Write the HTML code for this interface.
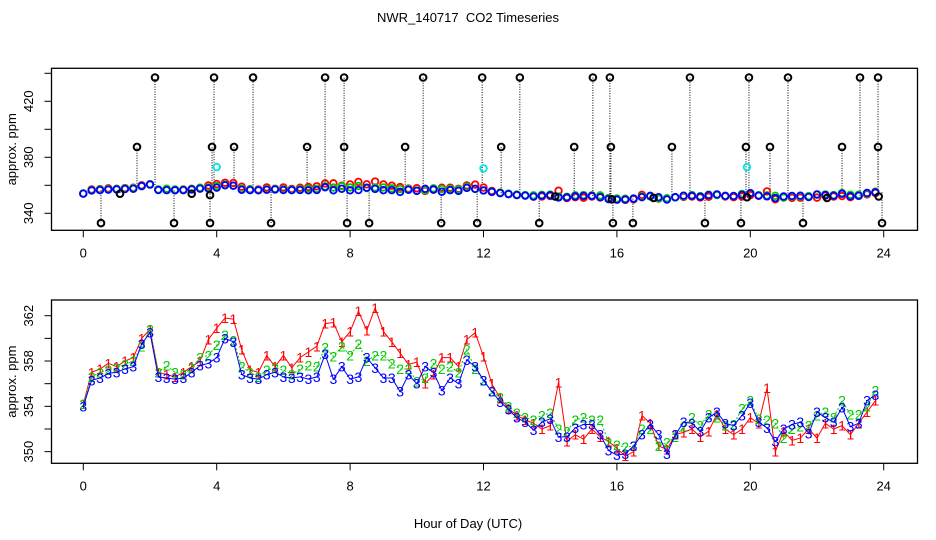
<!DOCTYPE html>
<html><head><meta charset="utf-8">
<style>
html,body{margin:0;padding:0;background:#fff;}
svg{display:block;font-family:"Liberation Sans",Arial,sans-serif;}
</style></head>
<body>
<svg id="chart" width="936" height="540" viewBox="0 0 936 540" xmlns="http://www.w3.org/2000/svg">
<rect x="0" y="0" width="936" height="540" fill="#fff"/>
<text x="468" y="22" font-size="13" text-anchor="middle" style="white-space:pre">NWR_140717  CO2 Timeseries</text>
<g id="topPanel"></g>
<g id="botPanel"></g>
<text x="468" y="528" font-size="13" text-anchor="middle">Hour of Day (UTC)</text>
</svg>
<script>
const hours = [];
for (let i = 0; i < 96; i++) hours.push(i * 0.25);
const series1 = [354.2,357.0,357.3,357.8,357.5,358.0,358.3,360.0,360.8,357.0,356.8,356.6,357.0,357.5,358.0,359.9,360.9,361.8,361.7,359.0,357.2,357.0,358.5,357.5,358.5,357.4,358.3,358.8,359.3,361.3,361.4,359.7,360.6,362.4,360.7,362.7,360.6,359.7,358.7,357.7,357.9,356.0,356.8,358.3,358.3,357.5,359.9,360.5,358.4,356.0,354.7,353.8,353.2,352.8,352.5,352.0,352.3,356.1,350.9,351.5,351.1,352.0,351.3,350.9,350.3,349.6,350.0,353.2,352.5,350.5,350.2,351.5,351.7,352.0,351.3,351.8,353.3,352.0,351.5,352.0,353.0,352.5,355.6,350.0,351.8,351.0,351.2,352.0,351.2,352.5,352.0,352.3,351.5,352.5,353.5,354.5];
const series2 = [354.2,356.6,357.0,357.2,357.4,357.7,358.0,359.3,360.8,357.0,357.6,357.0,356.8,357.4,358.3,358.5,359.4,360.3,359.8,357.5,357.0,356.6,357.2,357.4,357.2,356.8,357.3,357.6,357.5,359.2,358.4,359.3,358.5,359.5,358.0,358.5,358.5,357.8,357.3,357.3,356.2,356.5,357.8,357.3,357.5,357.0,359.0,357.3,356.3,355.3,354.8,354.0,353.4,353.0,352.8,353.2,353.4,352.0,351.8,352.8,353.0,352.8,352.8,350.8,350.6,350.4,350.5,352.0,352.0,350.5,350.8,351.3,352.2,353.0,352.3,353.3,353.0,352.3,352.4,353.8,354.5,352.9,352.8,352.5,351.2,352.0,352.2,352.3,353.2,353.5,353.0,354.5,353.3,353.3,354.0,355.4];
const series3 = [354.0,356.3,356.5,356.9,357.0,357.3,357.5,359.5,360.5,356.6,356.5,356.4,356.5,357.0,357.6,357.8,358.3,360.0,359.7,356.8,356.5,356.4,356.8,357.0,356.6,356.5,356.6,356.4,356.6,358.6,356.4,357.5,356.4,356.6,358.3,357.4,356.5,356.5,355.3,356.8,356.0,357.5,357.0,355.4,356.5,356.0,358.1,357.5,356.3,355.3,354.4,353.7,353.0,352.6,351.9,352.6,352.9,351.3,351.3,352.1,352.4,352.4,351.5,350.1,349.7,349.8,350.5,351.5,352.4,351.5,349.8,351.5,352.6,352.5,351.8,353.0,353.5,352.5,352.3,353.2,354.3,352.6,352.1,350.9,352.0,352.4,352.6,351.6,353.5,353.0,352.6,353.9,352.2,352.5,354.5,355.0];
const outlierHours = [2.15,3.92,5.09,7.25,7.82,10.19,11.96,13.09,15.28,15.79,18.19,19.96,21.13,23.29,23.83,
  1.61,3.86,4.52,6.71,7.82,9.65,12.53,14.72,15.82,17.65,19.87,20.59,22.75,23.83,
  0.53,2.72,3.80,5.63,7.91,8.57,10.73,11.81,13.67,15.88,16.48,18.64,19.72,21.58,23.95,
  1.1,3.25,3.8,14.15,15.85,17.1,19.9,22.3,23.85];
const outlierValues = [437,437,437,437,437,437,437,437,437,437,437,437,437,437,437,
  387.4,387.4,387.4,387.4,387.4,387.4,387.4,387.4,387.4,387.4,387.4,387.4,387.4,387.4,
  333,333,333,333,333,333,333,333,333,333,333,333,333,333,333,
  354,354,353,352,350,351,351.5,351,352];
const cyanHours = [4.0, 12.0, 19.9];
const cyanValues = [373, 372, 373];
const xTicks = [0,4,8,12,16,20,24];
const topYTicks = [340,360,380,400,420,440];
const topYLabels = [340,380,420];
const botYTicks = [350,352,354,356,358,360,362];
const botYLabels = [350,354,358,362];

const NS = "http://www.w3.org/2000/svg";
function mk(parent, tag, attrs, text) {
  const e = document.createElementNS(NS, tag);
  for (const k in attrs) e.setAttribute(k, attrs[k]);
  if (text !== undefined) e.textContent = text;
  parent.appendChild(e);
  return e;
}
const xS = h => 83.3 + h * 33.35;
const yT = v => 213.3 - (v - 340) * 1.4;
const yB = v => 315.7 - (v - 362) * 11.33;

function axes(g, y0, y1, yFn, yTicks, yLabels, name) {
  const box = mk(g, 'rect', {x:51.5, y:y0, width:866, height:y1-y0, fill:'none', stroke:'#000', 'stroke-width':1.3});
  
  
  xTicks.forEach(t => {
    mk(g, 'line', {x1:xS(t), x2:xS(t), y1:y1, y2:y1+7, stroke:'#000'});
    const tl = mk(g, 'text', {x:xS(t), y:y1+27, 'font-size':13, 'text-anchor':'middle'}, String(t));
    
    
  });
  yTicks.forEach(t => {
    mk(g, 'line', {x1:44.5, x2:51.5, y1:yFn(t), y2:yFn(t), stroke:'#000'});
  });
  yLabels.forEach(t => {
    const yl = mk(g, 'text', {x:0, y:0, 'font-size':13, 'text-anchor':'middle', transform:`translate(33,${yFn(t)}) rotate(-90)`}, String(t));
    
    
  });
  const yt = mk(g, 'text', {x:0, y:0, 'font-size':13, 'text-anchor':'middle', transform:`translate(16,${(y0+y1)/2}) rotate(-90)`}, 'approx. ppm');
  
  
}

// TOP PANEL
const topG = document.getElementById('topPanel');
axes(topG, 68.3, 230.3, yT, topYTicks, topYLabels, 'top');
outlierHours.forEach((h, i) => {
  const idx = Math.min(95, Math.round(h / 0.25));
  const base = series3[idx];
  mk(topG, 'line', {x1:xS(h), x2:xS(h), y1:yT(base), y2:yT(outlierValues[i]), stroke:'#000', 'stroke-dasharray':'1,1.5', 'stroke-width':1});
});
[[series1,'#ff0000'],[series2,'#00cc00'],[series3,'#0000ff']].forEach(([s,c], k) => {
  s.forEach((v, i) => {
    const p = mk(topG, 'circle', {cx:xS(hours[i]), cy:yT(v), r:3.3, fill:'none', stroke:c, 'stroke-width':1.8});
    
    
  });
});
outlierHours.forEach((h, i) => {
  const o = mk(topG, 'circle', {cx:xS(h), cy:yT(outlierValues[i]), r:3.3, fill:'none', stroke:'#000', 'stroke-width':2});
  
  
});
cyanHours.forEach((h, i) => {
  const o = mk(topG, 'circle', {cx:xS(h), cy:yT(cyanValues[i]), r:3.3, fill:'none', stroke:'#00e5e5', 'stroke-width':1.8});
  
  
});

// BOTTOM PANEL
const botG = document.getElementById('botPanel');
axes(botG, 300, 463.3, yB, botYTicks, botYLabels, 'bottom');
[[series1,'#ff0000','1'],[series2,'#00cc00','2'],[series3,'#0000ff','3']].forEach(([s,c,ch], k) => {
  const pts = s.map((v, i) => xS(hours[i]).toFixed(1) + ',' + yB(v).toFixed(1)).join(' ');
  const pl = mk(botG, 'polyline', {points:pts, fill:'none', stroke:c, 'stroke-width':1, 'stroke-dasharray': k===1 ? '2,2' : 'none'});
  
  
  s.forEach((v, i) => {
    const t = mk(botG, 'text', {x:xS(hours[i]), y:yB(v)+5, 'font-size':14, 'text-anchor':'middle', fill:c}, ch);
    
    
  });
});
</script>
</body></html>
